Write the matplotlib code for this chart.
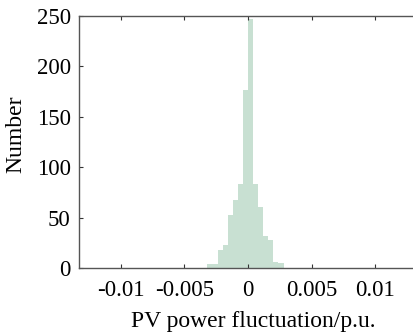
import matplotlib
matplotlib.use('Agg')
import matplotlib.pyplot as plt
import numpy as np

# histogram
bin_left = [-0.0032, -0.0028, -0.0024, -0.0020, -0.0016, -0.0012, -0.0008, -0.0004,
            0.0, 0.0004, 0.0008, 0.0012, 0.0016, 0.0020, 0.0024]
counts = [4, 4, 18, 23, 53, 67, 83, 177, 247, 83, 61, 32, 28, 6, 5]
bin_width = 0.0004

xticks = [-0.01, -0.005, 0, 0.005, 0.01]
xtick_labels = ['-0.01', '-0.005', '0', '0.005', '0.01']
yticks = [0, 50, 100, 150, 200, 250]

plt.rcParams['font.family'] = ['Liberation Serif', 'DejaVu Serif']
fs = 16.5
lfs = 17

fig = plt.figure(figsize=(4.13, 3.33), dpi=100)
ax = fig.add_axes([79/413, 1 - 268/333, (417 - 79)/413, (268 - 16)/333])
ax.bar(bin_left, counts, width=bin_width, align='edge', color='#c8e0d2', linewidth=0)

ax.set_xlim(-0.0133, 0.0133)
ax.set_ylim(0, 250)
ax.set_xticks(xticks)
ax.set_xticklabels(xtick_labels)
ax.set_yticks(yticks)
ax.tick_params(direction='in', length=3, width=0.8, color='#333333', labelsize=fs,
               top=True, right=True)
ax.tick_params(axis='x', pad=9)
ax.tick_params(axis='y', pad=6)
for s in ax.spines.values():
    s.set_color('#555555')
    s.set_linewidth(1.0)

ax.set_xlabel('PV power fluctuation/p.u.', fontsize=lfs)
ax.set_ylabel('Number', fontsize=lfs)
ax.xaxis.set_label_coords(0.515, -0.17)
ax.yaxis.set_label_coords(-0.155, 0.53)

fig.savefig('out.png', dpi=100)
